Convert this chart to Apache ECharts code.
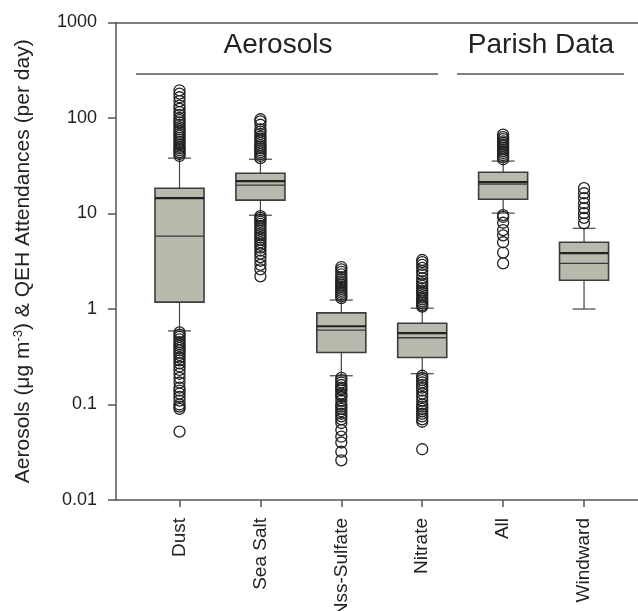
<!DOCTYPE html>
<html>
<head>
<meta charset="utf-8">
<script src="https://cdn.jsdelivr.net/npm/echarts@6/dist/echarts.min.js"></script>
<style>html,body{margin:0;padding:0;background:#fff}#c{width:638px;height:611px}</style>
</head>
<body>
<div id="c"></div>
<script>
const categories = ['Dust', 'Sea Salt', 'Nss-Sulfate', 'Nitrate', 'All', 'Windward'];
const yTicks = [0.01, 0.1, 1, 10, 100, 1000];

const whiskerLow  = [0.59, 9.6, 0.20, 0.21, 10.1, 1.0];
const q1          = [1.18, 13.8, 0.35, 0.31, 14.1, 2.0];
const median      = [5.8, 19.8, 0.60, 0.50, 20.3, 3.0];
const mean        = [14.5, 21.8, 0.66, 0.56, 21.3, 3.85];
const q3          = [18.4, 26.4, 0.91, 0.71, 27.0, 5.0];
const whiskerHigh = [38, 37, 1.24, 1.02, 35.4, 7.0];

const dustOutliers = [40, 42, 44, 46, 48, 50, 53, 56, 59, 62, 65, 68, 72, 76, 80, 85, 90, 95, 100, 108, 115, 125, 135, 150, 165, 180, 195,
  0.57, 0.54, 0.51, 0.48, 0.45, 0.43, 0.41, 0.39, 0.37, 0.35, 0.33, 0.31, 0.29, 0.27, 0.25, 0.23, 0.21, 0.19, 0.17, 0.15, 0.14, 0.13, 0.12, 0.11, 0.10, 0.095, 0.09, 0.052];
const seaSaltOutliers = [38, 40, 42, 44, 46, 48, 50, 52, 55, 58, 61, 64, 68, 72, 76, 85, 92, 97,
  9.4, 9.0, 8.6, 8.2, 7.8, 7.4, 7.0, 6.6, 6.2, 5.9, 5.6, 5.3, 5.0, 4.7, 4.4, 4.1, 3.8, 3.5, 3.2, 2.9, 2.6, 2.2];
const nssSulfateOutliers = [1.3, 1.36, 1.42, 1.48, 1.55, 1.62, 1.7, 1.78, 1.86, 1.95, 2.05, 2.15, 2.3, 2.45, 2.6, 2.75,
  0.19, 0.18, 0.17, 0.16, 0.15, 0.145, 0.14, 0.13, 0.125, 0.12, 0.11, 0.1, 0.095, 0.09, 0.085, 0.08, 0.075, 0.07, 0.064, 0.054, 0.046, 0.040, 0.032, 0.026];
const nitrateOutliers = [1.06, 1.1, 1.15, 1.2, 1.26, 1.32, 1.4, 1.48, 1.56, 1.65, 1.75, 1.85, 1.95, 2.1, 2.3, 2.5, 2.7, 2.9, 3.1, 3.26,
  0.2, 0.19, 0.18, 0.17, 0.16, 0.15, 0.14, 0.13, 0.12, 0.11, 0.1, 0.095, 0.09, 0.085, 0.08, 0.075, 0.07, 0.066, 0.034];
const allOutliers = [37, 39, 41, 43, 45, 47, 49, 51, 53, 55, 57, 60, 63, 67,
  9.6, 9.2, 8.0, 6.7, 5.9, 5.0, 3.9, 3.0];
const windwardOutliers = [7.9, 9.0, 10.1, 11.4, 12.8, 14.5, 16.3, 18.4];

const outlierLists = [dustOutliers, seaSaltOutliers, nssSulfateOutliers, nitrateOutliers, allOutliers, windwardOutliers];

const boxData = categories.map((c, i) => [i + 1, whiskerLow[i], q1[i], median[i], mean[i], q3[i], whiskerHigh[i]]);
const outlierData = [];
outlierLists.forEach((list, i) => list.forEach(v => outlierData.push([i + 1, v])));

const FONT = "'Liberation Sans', Arial, Helvetica, sans-serif";
const AX = '#555';

function renderBox(params, api) {
  const x = api.value(0);
  const wl = api.value(1), b1 = api.value(2), med = api.value(3), mn = api.value(4), b3 = api.value(5), wh = api.value(6);
  const hw = 0.303, cw = 0.142;
  const tl = api.coord([x - hw, b3]);
  const br = api.coord([x + hw, b1]);
  const cTop = api.coord([x, b3]), cWh = api.coord([x, wh]);
  const cBot = api.coord([x, b1]), cWl = api.coord([x, wl]);
  const capHL = api.coord([x - cw, wh]), capHR = api.coord([x + cw, wh]);
  const capLL = api.coord([x - cw, wl]), capLR = api.coord([x + cw, wl]);
  const medL = api.coord([x - hw, med]), medR = api.coord([x + hw, med]);
  const mnL = api.coord([x - hw, mn]), mnR = api.coord([x + hw, mn]);
  const ws = { stroke: '#444', lineWidth: 1.2 };
  return {
    type: 'group',
    children: [
      { type: 'line', shape: { x1: cTop[0], y1: cTop[1], x2: cWh[0], y2: cWh[1] }, style: ws },
      { type: 'line', shape: { x1: cBot[0], y1: cBot[1], x2: cWl[0], y2: cWl[1] }, style: ws },
      { type: 'line', shape: { x1: capHL[0], y1: capHL[1], x2: capHR[0], y2: capHR[1] }, style: ws },
      { type: 'line', shape: { x1: capLL[0], y1: capLL[1], x2: capLR[0], y2: capLR[1] }, style: ws },
      { type: 'rect', shape: { x: tl[0], y: tl[1], width: br[0] - tl[0], height: br[1] - tl[1] },
        style: { fill: '#bab9ad', stroke: '#3c3c3c', lineWidth: 1.6 } },
      { type: 'line', shape: { x1: medL[0], y1: medL[1], x2: medR[0], y2: medR[1] }, style: { stroke: '#3a3a3a', lineWidth: 1.3 } },
      { type: 'line', shape: { x1: mnL[0], y1: mnL[1], x2: mnR[0], y2: mnR[1] }, style: { stroke: '#222', lineWidth: 2.2 } }
    ]
  };
}

const chart = echarts.init(document.getElementById('c'), null, { renderer: 'canvas' });
chart.setOption({
  animation: false,
  backgroundColor: '#fff',
  textStyle: { fontFamily: FONT },
  grid: { left: 116, right: 0, top: 22.5, bottom: 111, containLabel: false, outerBoundsMode: 'none' },
  xAxis: [{
    type: 'value', min: 0.215, max: 6.667, position: 'bottom',
    splitLine: { show: false },
    axisLine: { show: true, lineStyle: { color: AX, width: 1.5 } },
    axisTick: { show: true, customValues: [1, 2, 3, 4, 5, 6], length: 7, lineStyle: { color: AX, width: 1.5 } },
    axisLabel: { customValues: [1, 2, 3, 4, 5, 6], rotate: 90, margin: 18, fontSize: 19, color: '#222', fontFamily: FONT,
      formatter: v => categories[Math.round(v) - 1] }
  }, {
    type: 'value', min: 0.215, max: 6.667, position: 'top',
    splitLine: { show: false },
    axisLine: { show: true, lineStyle: { color: AX, width: 1.5 } },
    axisTick: { show: false }, axisLabel: { show: false }
  }],
  yAxis: {
    type: 'log', logBase: 10, min: 0.01, max: 1000,
    splitLine: { show: false },
    axisLine: { show: true, lineStyle: { color: AX, width: 1.5 } },
    axisTick: { show: true, length: 8, lineStyle: { color: AX, width: 1.5 } },
    minorTick: { show: false },
    axisLabel: { margin: 19, fontSize: 18, color: '#222', fontFamily: FONT,
      formatter: v => String(+(+v).toPrecision(6)) },
    name: 'Aerosols (μg m{sup|-3}) & QEH Attendances (per day)',
    nameLocation: 'middle', nameGap: 82, nameRotate: 90,
    nameTextStyle: { fontSize: 21, color: '#222', fontFamily: FONT,
      rich: { sup: { fontSize: 13, color: '#222', fontFamily: FONT, verticalAlign: 'top', padding: [0, 0, 9, 0] } } }
  },
  graphic: [
    { type: 'text', style: { text: 'Aerosols', x: 278, y: 45, textAlign: 'center', textVerticalAlign: 'middle', fontSize: 28, fontFamily: FONT, fill: '#222' } },
    { type: 'text', style: { text: 'Parish Data', x: 541, y: 45, textAlign: 'center', textVerticalAlign: 'middle', fontSize: 28, fontFamily: FONT, fill: '#222' } },
    { type: 'line', shape: { x1: 136, y1: 74, x2: 438, y2: 74 }, style: { stroke: '#555', lineWidth: 1.5 } },
    { type: 'line', shape: { x1: 457, y1: 74, x2: 624, y2: 74 }, style: { stroke: '#555', lineWidth: 1.5 } }
  ],
  series: [{
    type: 'custom', name: 'box', renderItem: renderBox, data: boxData,
    encode: { x: 0, y: [1, 2, 3, 4, 5, 6] }, z: 2, clip: false
  }, {
    type: 'scatter', name: 'outliers', data: outlierData, symbol: 'circle', symbolSize: 11, z: 3,
    itemStyle: { color: 'rgba(255,255,255,0)', borderColor: '#222', borderWidth: 1.3, opacity: 1 }
  }]
});
</script>
</body>
</html>
